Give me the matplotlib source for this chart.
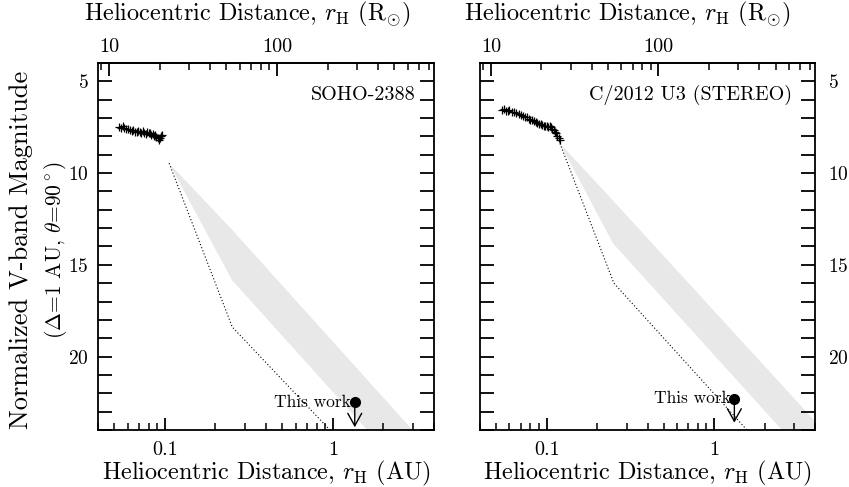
import matplotlib
matplotlib.use('Agg')
import matplotlib.pyplot as plt
from matplotlib.ticker import FixedLocator, FixedFormatter, NullFormatter, MultipleLocator

plt.rcParams.update({
    'font.family': 'serif',
    'font.serif': ['cmr10'],
    'mathtext.fontset': 'cm',
    'axes.formatter.use_mathtext': True,
    'axes.linewidth': 1.3,
})

RSUN_PER_AU = 215.03

# ---- data: SOHO-2388 ----
soho_r = [0.053, 0.0545, 0.056, 0.0575, 0.059, 0.0605, 0.062, 0.0635, 0.065, 0.0665,
          0.068, 0.0695, 0.071, 0.0725, 0.074, 0.0755, 0.077, 0.0785, 0.080, 0.0815,
          0.083, 0.0845, 0.086, 0.0875, 0.089, 0.0905, 0.092, 0.0935, 0.095, 0.0965]
soho_mag = [7.48, 7.52, 7.45, 7.55, 7.62, 7.58, 7.66, 7.70, 7.64, 7.74,
            7.78, 7.70, 7.76, 7.82, 7.72, 7.80, 7.86, 7.76, 7.84, 7.80,
            7.92, 7.88, 7.98, 7.94, 8.04, 8.10, 8.18, 8.06, 7.98, 7.92]
soho_shade_r = [0.106, 0.252, 2.98, 1.60, 0.251]
soho_shade_mag = [9.46, 13.1, 24.0, 24.0, 15.83]
soho_dot_r = [0.106, 0.252, 0.96]
soho_dot_mag = [9.46, 18.39, 24.0]
soho_limit_r = 1.35
soho_limit_mag = 22.5
soho_arrow_end = 23.85

# ---- data: C/2012 U3 (STEREO) ----
stereo_r = [0.054, 0.0555, 0.057, 0.0585, 0.060, 0.062, 0.064, 0.066, 0.068, 0.070,
            0.072, 0.074, 0.076, 0.078, 0.080, 0.082, 0.084, 0.086, 0.088, 0.090,
            0.092, 0.094, 0.096, 0.098, 0.100, 0.102, 0.104, 0.106, 0.108, 0.110,
            0.112, 0.114, 0.116, 0.118, 0.120]
stereo_mag = [6.58, 6.52, 6.60, 6.62, 6.58, 6.66, 6.65, 6.74, 6.80, 6.84,
              6.90, 6.94, 6.96, 7.04, 7.08, 7.10, 7.18, 7.22, 7.26, 7.30,
              7.34, 7.38, 7.42, 7.44, 7.46, 7.48, 7.46, 7.50, 7.58, 7.66,
              7.74, 7.84, 7.96, 8.06, 8.22]
stereo_shade_r = [0.12, 0.252, 4.47, 2.54, 0.249]
stereo_shade_mag = [8.38, 11.55, 24.0, 24.0, 13.83]
stereo_dot_r = [0.12, 0.252, 1.57]
stereo_dot_mag = [8.38, 16.0, 24.0]
stereo_limit_r = 1.32
stereo_limit_mag = 22.3
stereo_arrow_end = 23.6

panels = [
    dict(name='SOHO-2388', r=soho_r, m=soho_mag, sr=soho_shade_r, sm=soho_shade_mag,
         dr=soho_dot_r, dm=soho_dot_mag, lr=soho_limit_r, lm=soho_limit_mag,
         ae=soho_arrow_end, pos=[98/849, 1-430/487, 336/849, 367/487], side='left',
         name_x=0.946, top_x=0.443),
    dict(name='C/2012 U3 (STEREO)', r=stereo_r, m=stereo_mag, sr=stereo_shade_r,
         sm=stereo_shade_mag, dr=stereo_dot_r, dm=stereo_dot_mag, lr=stereo_limit_r,
         lm=stereo_limit_mag, ae=stereo_arrow_end,
         pos=[480/849, 1-430/487, 335/849, 367/487], side='right',
         name_x=0.933, top_x=0.439),
]

fig = plt.figure(figsize=(8.49, 4.87), dpi=100)

for p in panels:
    ax = fig.add_axes(p['pos'])
    ax.set_xscale('log')
    ax.set_xlim(0.04, 4.0)
    ax.set_ylim(24, 4)

    ax.fill(p['sr'], p['sm'], color='#e8e8e8', lw=0, zorder=1)
    ax.plot(p['dr'], p['dm'], ls=(0, (1, 2)), color='black', lw=0.8, zorder=2)
    ax.plot(p['r'], p['m'], ls='none', marker='+', ms=6, mew=0.9, color='black', zorder=3)

    ax.plot([p['lr']], [p['lm']], marker='o', ms=7, color='black', zorder=4)
    ax.annotate('', xy=(p['lr'], p['ae']), xytext=(p['lr'], p['lm']),
                arrowprops=dict(arrowstyle='->,head_length=0.45,head_width=0.25',
                                lw=1.0, color='black', mutation_scale=20,
                                shrinkA=0, shrinkB=0), zorder=4)
    ax.text(p['lr'] / 1.05, p['lm'], 'This work', ha='right', va='center',
            fontsize=12.5, zorder=5)

    ax.text(p['name_x'], 0.913, p['name'], transform=ax.transAxes, ha='right',
            va='center', fontsize=14.5)

    # ticks
    ax.xaxis.set_major_locator(FixedLocator([0.1, 1.0]))
    ax.xaxis.set_major_formatter(FixedFormatter(['0.1', '1']))
    ax.xaxis.set_minor_locator(FixedLocator([0.04, 0.05, 0.06, 0.07, 0.08, 0.09,
                                             0.2, 0.3, 0.4, 0.5, 0.6, 0.7, 0.8, 0.9,
                                             2, 3, 4]))
    ax.xaxis.set_minor_formatter(NullFormatter())
    ax.yaxis.set_major_locator(MultipleLocator(5))
    ax.yaxis.set_minor_locator(MultipleLocator(1))
    ax.tick_params(axis='x', which='major', direction='in', length=9, width=1.3,
                   top=False, labelsize=14.5, pad=8)
    ax.tick_params(axis='x', which='minor', direction='in', length=5, width=1.1, top=False)
    if p['side'] == 'left':
        ax.tick_params(axis='y', which='both', direction='in', length=10, width=1.3,
                       left=True, right=True, labelleft=True, labelright=False,
                       labelsize=14, pad=7)
    else:
        ax.tick_params(axis='y', which='both', direction='in', length=10, width=1.3,
                       left=True, right=True, labelleft=False, labelright=True,
                       labelsize=14, pad=9.5)

    sec = ax.secondary_xaxis('top', functions=(lambda a: a * RSUN_PER_AU,
                                               lambda s: s / RSUN_PER_AU))
    sec.xaxis.set_major_locator(FixedLocator([10, 100]))
    sec.xaxis.set_major_formatter(FixedFormatter(['10', '100']))
    sec.xaxis.set_minor_locator(FixedLocator([9, 20, 30, 40, 50, 60, 70, 80, 90,
                                              200, 300, 400, 500, 600, 700, 800]))
    sec.xaxis.set_minor_formatter(NullFormatter())
    sec.tick_params(axis='x', which='major', direction='in', length=9, width=1.3,
                    labelsize=14.5, pad=5)
    sec.tick_params(axis='x', which='minor', direction='in', length=5, width=1.1)

    ax.text(0.5, -0.119, r'Heliocentric Distance, $r_{\rm H}$ (AU)',
            transform=ax.transAxes, ha='center', va='center', fontsize=17.5)
    ax.text(p['top_x'], 1.131, r'Heliocentric Distance, $r_{\rm H}$ ($\mathrm{R}_{\odot}$)',
            transform=ax.transAxes, ha='center', va='center', fontsize=17.5)

fig.text(0.025, 0.487, 'Normalized V-band Magnitude', rotation=90,
         ha='center', va='center', fontsize=19)
fig.text(0.0655, 0.487, r'($\Delta$=1 AU, $\theta$=90$^\circ$)', rotation=90,
         ha='center', va='center', fontsize=15.5)

fig.savefig('out.png', dpi=100)
